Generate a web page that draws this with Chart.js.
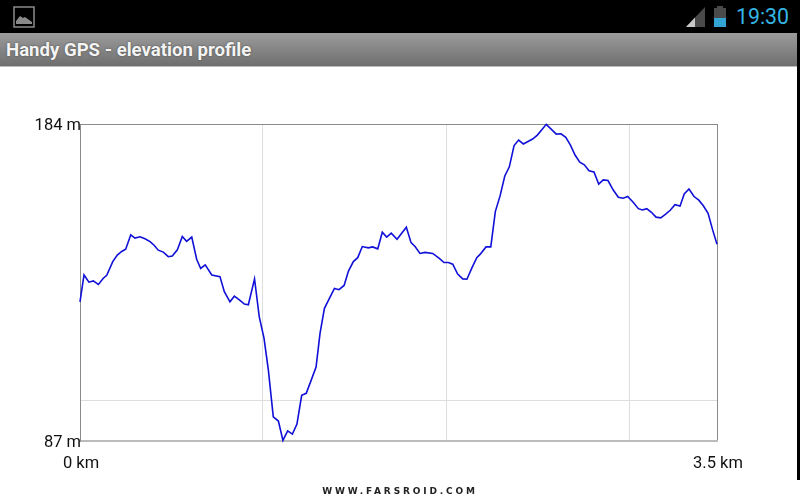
<!DOCTYPE html>
<html>
<head>
<meta charset="utf-8">
<title>Handy GPS - elevation profile</title>
<script src="https://cdn.jsdelivr.net/npm/chart.js@4/dist/chart.umd.js"></script>
<style>
  html, body { margin: 0; padding: 0; background: #fff; }
  #page { position: relative; width: 800px; height: 502px; overflow: hidden; background: #fff; }
  #status { position: absolute; left: 0; top: 0; width: 800px; height: 33px; background: #000; }
  #edge { position: absolute; left: 797px; top: 0; width: 3px; height: 480px; background: #000; z-index: 3; }
  #appbar {
    position: absolute; left: 0; top: 33px; width: 800px; height: 34px;
    background: linear-gradient(#9c9c9c, #6e6e6e);
    border-bottom: 1px solid #bbb; box-sizing: border-box;
    color: #f4f4f4; font: bold 18.6px Roboto, sans-serif; line-height: 35px; padding-left: 6px;
    text-shadow: 0 0 2px #444;
  }
  #clock { position: absolute; left: 736px; top: 4px; color: #33b5e5; font: 21.3px Roboto, sans-serif; }
  #site {
    position: absolute; left: 250px; width: 300px; top: 486px; text-align: center;
    font: bold 9px "DejaVu Sans", sans-serif; letter-spacing: 2.85px; color: #222;
  }
  canvas { position: absolute; left: 0; top: 0; }
  svg { position: absolute; }
</style>
</head>
<body>
<div id="page">
  <canvas id="elevation" width="800" height="502"></canvas>
  <div id="status">
    <svg style="left:13px;top:6px" width="22" height="22" viewBox="0 0 22 22">
      <rect x="1" y="1" width="20" height="20" fill="none" stroke="#8a8a8a" stroke-width="1.5"/>
      <path d="M3 18 L3 15 L7 10 L10 12 L12 11 L19 16 L19 18 Z" fill="#8a8a8a"/>
    </svg>
    <svg style="left:686px;top:6px" width="20" height="21" viewBox="0 0 20 21">
      <path d="M0 21 L19 1 L19 21 Z" fill="#4a4a4a"/>
      <path d="M0 21 L9 11.5 L9 21 Z" fill="#c8c8c8"/>
    </svg>
    <svg style="left:713px;top:6px" width="14" height="21" viewBox="0 0 14 21">
      <rect x="4" y="0" width="6" height="3" fill="#4a4a4a"/>
      <rect x="1" y="2" width="12" height="10" fill="#4a4a4a"/>
      <rect x="1" y="12" width="12" height="9" fill="#33a5d5"/>
    </svg>
    <div id="clock">19:30</div>
  </div>
  <div id="appbar">Handy GPS - elevation profile</div>
  <div id="edge"></div>
  <div id="site">WWW.FARSROID.COM</div>
</div>
<script>
// distance along the track (km) and elevation (m)
const distances = [0, .022, .049, .073, .101, .128, .147, .18, .205, .229, .251, .279, .302, .33, .357, .385, .407, .43, .458, .485,
  .507, .535, .562, .586, .614, .641, .663, .688, .724, .769, .793, .824, .848, .879, .903, .925, .959, .985, 1.011, 1.035,
  1.062, 1.09, 1.115, 1.141, 1.167, 1.192, 1.218, 1.243, 1.271, 1.297, 1.319, 1.343, 1.398, 1.423, 1.451, 1.475, 1.502, 1.526, 1.551, 1.584,
  1.608, 1.636, 1.661, 1.685, 1.71, 1.742, 1.793, 1.819, 1.841, 1.868, 1.896, 1.938, 1.974, 2, 2.024, 2.048, 2.075, 2.103, 2.126, 2.152,
  2.18, 2.198, 2.231, 2.257, 2.282, 2.308, 2.334, 2.359, 2.385, 2.41, 2.436, 2.487, 2.513, 2.562, 2.617, 2.643, 2.669, 2.694, 2.72, 2.746,
  2.771, 2.797, 2.824, 2.85, 2.875, 2.901, 2.93, 2.958, 2.985, 3.009, 3.037, 3.068, 3.09, 3.114, 3.141, 3.165, 3.191, 3.218, 3.243, 3.269,
  3.297, 3.32, 3.346, 3.374, 3.4, 3.425, 3.451, 3.476, 3.5]
const elevations = [129.6, 137.8, 135.6, 136, 134.9, 136.8, 137.7, 141.9, 143.9, 145, 145.7, 150.1, 149.1, 149.5, 148.9, 148, 146.9, 145.4, 144.8, 143.4,
  143.6, 145.5, 149.6, 148.1, 149.4, 142.6, 139.8, 140.9, 137.8, 137.3, 132.7, 129.6, 131.3, 130, 128.9, 128.7, 136.6, 125, 118.5, 108.7,
  94.4, 93.1, 87.2, 90.1, 89.1, 92.2, 101, 101.6, 105.7, 109.6, 120, 127.6, 133.7, 133.3, 134.6, 139, 141.9, 143.1, 146.5, 146.1,
  146.4, 145.8, 150.9, 149.4, 150.6, 148.7, 152.4, 147.7, 146.5, 144.4, 144.7, 144.4, 142.9, 141.6, 141.6, 141.1, 138.1, 136.6, 136.5, 139.8,
  143.1, 144.1, 146.4, 146.4, 157.2, 162, 168.1, 170.9, 177.4, 179.1, 177.9, 179.4, 180.6, 183.9, 180.9, 181, 179.9, 177.6, 174.5, 172.3,
  171.5, 169.7, 169.3, 165.6, 166.9, 166.7, 163.8, 161.6, 161.3, 161.8, 160.2, 158.1, 157.7, 158.1, 156.9, 155.5, 155.3, 156.4, 157.6, 159.3,
  158.9, 162.6, 164.1, 161.8, 160.7, 159, 156.7, 151.6, 147.2]

// the 3.5 km end label is rounded, so the inner grid lines sit a touch past whole km
const xTicks = [0, 1.005, 2.011, 3.02, 3.5]
const yTicks = [87, 99.5, 184]
const xLabels = { 0: '0 km', 3.5: '3.5 km' }
const yLabels = { 87: '87 m', 184: '184 m' }

const ctx = document.getElementById('elevation').getContext('2d')
new Chart(ctx, {
  type: 'line',
  data: {
    datasets: [{
      data: distances.map((d, i) => ({ x: d, y: elevations[i] })),
      borderColor: '#1010d8',
      borderWidth: 1.6,
      pointRadius: 0,
      tension: 0,
      clip: 2
    }]
  },
  options: {
    responsive: false,
    animation: false,
    layout: { autoPadding: false, padding: { left: 0, top: 124, right: 83, bottom: 0 } },
    plugins: { legend: { display: false }, tooltip: { enabled: false } },
    scales: {
      x: {
        type: 'linear',
        min: 0,
        max: 3.5,
        afterBuildTicks: scale => { scale.ticks = xTicks.map(v => ({ value: v })) },
        afterFit: scale => { scale.height = 61 },
        border: { color: '#bcbcbc', width: 2 },
        grid: {
          drawTicks: false,
          lineWidth: 1,
          color: c => c.tick.value === 3.5 ? '#8a8a8a' : '#dedede'
        },
        ticks: {
          autoSkip: false,
          maxRotation: 0,
          padding: 13,
          labelOffset: 1,
          color: '#111',
          font: { family: 'Roboto', size: 16.5 },
          callback: v => xLabels[v] || ''
        }
      },
      y: {
        min: 87,
        max: 184,
        afterBuildTicks: scale => { scale.ticks = yTicks.map(v => ({ value: v })) },
        afterFit: scale => { scale.width = 80 },
        border: { color: '#8a8a8a', width: 1 },
        grid: {
          drawTicks: false,
          lineWidth: 1,
          color: c => c.tick.value === 184 ? '#8a8a8a' : '#dedede'
        },
        ticks: {
          autoSkip: false,
          padding: -1,
          labelOffset: 1.5,
          color: '#111',
          font: { family: 'Roboto', size: 16.5 },
          callback: v => yLabels[v] || ''
        }
      }
    }
  }
})
</script>
</body>
</html>
